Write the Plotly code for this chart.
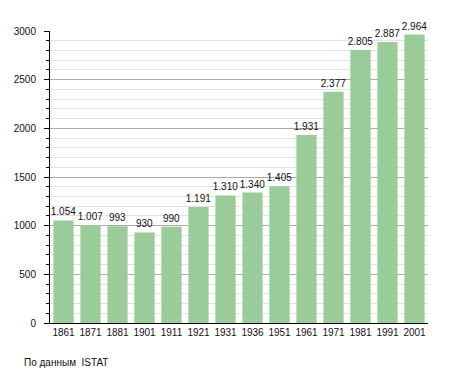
import plotly.graph_objects as go

years = ["1861", "1871", "1881", "1901", "1911", "1921", "1931", "1936", "1951", "1961", "1971", "1981", "1991", "2001"]
population = [1054, 1007, 993, 930, 990, 1191, 1310, 1340, 1405, 1931, 2377, 2805, 2887, 2964]
labels = ["1.054", "1.007", "993", "930", "990", "1.191", "1.310", "1.340", "1.405", "1.931", "2.377", "2.805", "2.887", "2.964"]

# page body has an 8px default margin; compensate
OFF = 8
W, H = 455 - OFF, 373 - OFF
l, r, t, b = 50 - OFF, 27, 31 - OFF, 50
pw, ph = W - l - r, H - t - b

fig = go.Figure(go.Bar(
    x=years, y=population, text=labels, textposition="outside",
    textangle=0, constraintext="none",
    textfont=dict(family="Liberation Sans, Arial", size=10, color="#111"),
    marker=dict(color="#99cc99", line=dict(width=0)),
    cliponaxis=False,
))

fig.update_layout(
    width=W, height=H,
    margin=dict(l=l, r=r, t=t, b=b, autoexpand=False),
    paper_bgcolor="white", plot_bgcolor="white",
    bargap=0.25,
    showlegend=False,
    font=dict(family="Liberation Sans, Arial", size=10, color="#111"),
    xaxis=dict(type="category", showline=True, linecolor="black", linewidth=1,
               ticks="", tickfont=dict(size=10), showgrid=False, automargin=False),
    yaxis=dict(range=[0, 3000], dtick=500, showline=True, linecolor="black", linewidth=1,
               ticks="outside", ticklen=5, tickcolor="black", ticklabelstandoff=6,
               showgrid=True, gridcolor="#aaaaaa", gridwidth=1, automargin=False,
               zeroline=False, tickfont=dict(size=10),
               minor=dict(dtick=100, showgrid=True, gridcolor="#e2e2e2",
                          ticks="outside", ticklen=3, tickcolor="black")),
    annotations=[dict(text="По данным  ISTAT", x=(22 - OFF - l) / pw, y=(H - b - (362 - OFF)) / ph,
                      xref="paper", yref="paper",
                      showarrow=False, font=dict(size=10), xanchor="left", yanchor="middle")],
)

fig.write_html("out.html")
